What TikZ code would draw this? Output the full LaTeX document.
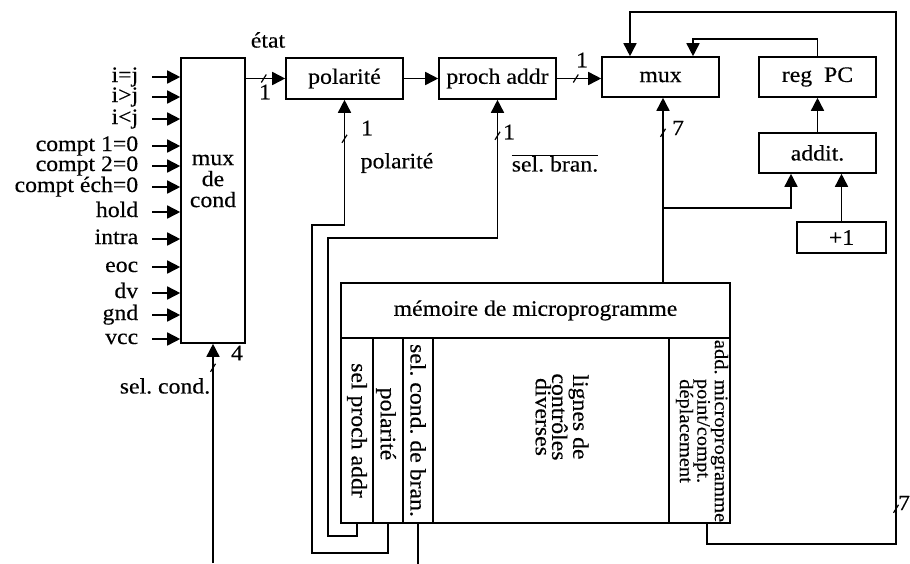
\documentclass[tikz,border=0pt]{standalone}
\usepackage{fontspec}
\setmainfont{Liberation Serif}[FakeStretch=1.08,FakeBold=0.3]
\usetikzlibrary{arrows.meta,decorations.markings}
\frenchspacing

\begin{document}
\begin{tikzpicture}[x=1pt,y=-1pt,>={Triangle[length=13pt,width=13pt]},
  font=\fontsize{22}{21}\selectfont,line width=1.6pt,
  blk/.style={draw,inner sep=0pt,minimum width=117,minimum height=41},
  fld/.style={draw,inner sep=0pt,minimum height=185},
  rot/.style={rotate=-90,inner sep=0pt,align=center},
  lbl/.style={inner sep=0pt,text height=15pt,text depth=5pt},
  bus/.style={postaction={decorate,decoration={markings,mark=at position #1 with
    {\pgftransformresetnontranslations\draw[-,line width=1.2pt] (-2.5pt,-4pt) -- (2.5pt,4pt);}}}}]
\useasboundingbox (0,0) rectangle (910,563);

% condition multiplexer and its inputs
\node[blk,minimum width=64,minimum height=285] (mc) at (213,200.5) {};
\node[align=center] (mctxt) at (213,181) {mux\\de\\cond};
\foreach \lab/\yy [count=\k] in {i=j/77,i>j/97,i<j/119,compt 1=0/146,compt 2=0/166,compt éch=0/187,hold/212,intra/239,eoc/267,dv/293,gnd/315,vcc/339}{
  \node[lbl,anchor=east] (in\k) at (139,\yy) {\lab};
  \draw[->] ([xshift=13pt]in\k.east) -- (in\k.east -| mc.west);
}

% top row
\node[blk] (pol) at (344.5,78.5) {polarité};
\node[blk] (pa) at (497.5,78.5) {proch addr};
\node[blk,minimum height=40] (mux) at (660.5,77) {mux};
\node[blk,minimum height=40] (pc) at (817.5,77) {reg~~PC};
\node[blk,minimum height=40] (add) at (817.5,153) {addit.};
\node[blk,minimum width=89,minimum height=31] (one) at (841.5,237.5) {+1};

% microprogram memory
\node[blk,minimum width=389,minimum height=55] (mem) at (535.5,310.5) {mémoire de microprogramme};
\node[fld,minimum width=32] (f1) at (357,430.5) {};
\node[fld,minimum width=30] (f2) at (388,430.5) {};
\node[fld,minimum width=30] (f3) at (418,430.5) {};
\node[fld,minimum width=236] (f4) at (551,430.5) {};
\node[fld,minimum width=61] (f5) at (699.5,430.5) {};
\node[rot] (t1) at (f1) {sel proch addr};
\node[rot] (t2) at (386,424) {polarité};
\node[rot] (t3) at (f3) {sel. cond. de bran.};
\node[rot,font=\fontsize{22}{14.5}\selectfont] (t4) at (562,417) {lignes de\\contrôles\\diverses};
\node[rot,font=\fontsize{19}{17.5}\selectfont] (t5) at (702,431) {add. microprogramme\\point/compt.\\déplacement};

\coordinate (c1) at (328,238);
\coordinate (c2) at (312,225);
\coordinate (sc) at (213,563);
\coordinate (ne) at (896,12);
\coordinate (br) at (663,208);

% connections
\draw[->,bus=18pt] (mc.east |- pol.west) -- (pol.west);
\draw[->] (pol) -- (pa);
\draw[->,bus=19pt] (pa.east) -- (pa.east -| mux.west);
\draw[->] (add) -- (pc);
\draw[->] (one.north) -- (one.north |- add.south);
\draw[->] (pc.north) -- ++(0,-17) -| ([xshift=32.5pt]mux.north);
\draw[->,bus=-35pt] (mem.north -| br) -- (br |- mux.south);
\draw[->] (br) -| ([xshift=-26.5pt]add.south);
\draw[->,bus=244pt] ([xshift=7.5pt]f5.south) -- ++(0,20) -| (ne) -| ([xshift=-30.5pt]mux.north);
\draw[->,bus=-36pt] (f1.south) -- ++(0,12) -| (c1) -| (pa.south);
\draw[->,bus=-39pt] (f2.south) -- ++(0,29) -| (c2) -| (pol.south);
\draw (f3.south) -- ++(0,40);
\draw[->,bus=-24pt] (sc) -- (mc.south);

% labels
\node (etat) at (268,40) {état};
\node (n1a) at (265,92) {1};
\node (n1b) at (582,60) {1};
\node (n1c) at (367,128) {1};
\node (n1d) at (509,132) {1};
\node (n7a) at (678,128) {7};
\node (n7b) at (904,503) {7};
\node (n4) at (237,353) {4};
\node (selc) at (165,386) {sel. cond.};
\node (lpol) at (397,163) {polarité};
\node (lsb) at (555,163) {$\overline{\mbox{sel. bran.}}$};
\end{tikzpicture}
\end{document}
